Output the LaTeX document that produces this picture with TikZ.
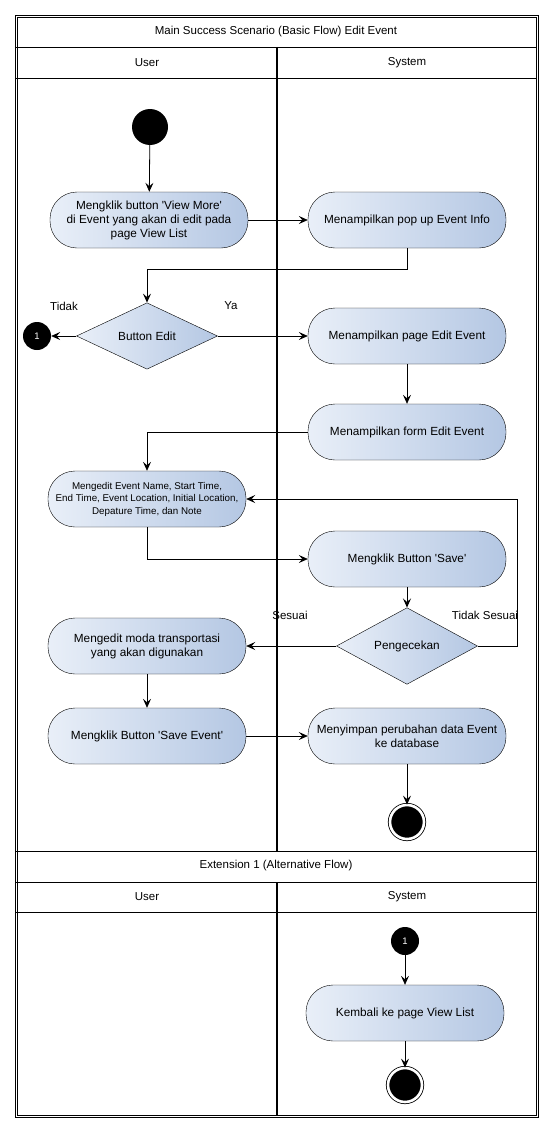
\documentclass[tikz,border=0pt]{standalone}
\usepackage{fontspec}
\setmainfont{Liberation Sans}
\usetikzlibrary{positioning,arrows.meta,shapes.geometric,calc}
\definecolor{actLeft}{HTML}{E9EFF8}
\definecolor{actRight}{HTML}{B4C7E3}
\newcommand{\sq}{\textquotesingle}

\begin{document}
\begin{tikzpicture}[
    x=1pt, y=-1pt,
    act/.style={draw, rounded corners=27pt, minimum width=198pt, minimum height=56pt, left color=actLeft, right color=actRight, font=\fontsize{11.8}{14}\selectfont, align=center, inner sep=2pt},
    decision/.style={diamond, draw, minimum width=141pt, minimum height=57pt, inner sep=0pt, left color=actLeft, right color=actRight, font=\fontsize{11.8}{14}\selectfont},
    startnode/.style={circle, fill=black, minimum size=36pt, inner sep=0pt},
    endnode/.style={circle, fill=black, draw=black, double=white, double distance=2.6pt, line width=0.8pt, minimum size=34pt, inner sep=0pt},
    connnode/.style={circle, fill=black, text=white, minimum size=28pt, inner sep=0pt, font=\fontsize{9.5}{10}\selectfont},
    lbl/.style={font=\fontsize{11.5}{13}\selectfont},
    lane/.style={line width=0.8pt},
    arrow/.style={-{Stealth[length=9pt, width=8pt, inset=3.5pt]}, line width=0.8pt}
  ]
  \useasboundingbox (0,0) rectangle (554,1132);

  % Swimlane frame
  \draw[lane] (15,15) rectangle (538,1117);
  \draw[lane] (17,17) rectangle (536,1115);
  \draw[lane] (16,47) -- (537,47);
  \draw[lane] (16,78) -- (537,78);
  \draw[lane] (16,851) -- (537,851);
  \draw[lane] (16,882) -- (537,882);
  \draw[lane] (16,912) -- (537,912);
  \draw[line width=2pt] (277,47) -- (277,851);
  \draw[line width=2pt] (277,882) -- (277,1115);

  \node[lbl] (title) at (276,32) {Main Success Scenario (Basic Flow) Edit Event};
  \node[lbl] (userA) at (147,63) {User};
  \node[lbl] (systemA) at (407,63) {System};
  \node[lbl] (title2) at (276,866) {Extension 1 (Alternative Flow)};
  \node[lbl] (userB) at (147,897) {User};
  \node[lbl] (systemB) at (407,897) {System};

  % Basic flow
  \node[startnode] (start) at (150,127) {};
  \node[act] (viewmore) at (149,220) {Mengklik button \sq View More\sq\\di Event yang akan di edit pada\\page View List};
  \node[act] (popup) at (407,220) {Menampilkan pop up Event Info};
  \node[decision] (btnedit) at (147,336) {Button Edit};
  \node[connnode] (conn1) at (37,336) {1};
  \node[act] (pageedit) at (407,336) {Menampilkan page Edit Event};
  \node[act] (formedit) at (407,432) {Menampilkan form Edit Event};
  \node[act, font=\fontsize{9.8}{12.5}\selectfont] (editdata) at (147,499) {Mengedit Event Name, Start Time,\\End Time, Event Location, Initial Location,\\Depature Time, dan Note};
  \node[act] (save) at (407,559) {Mengklik Button \sq Save\sq};
  \node[decision] (cek) at (407,646) {Pengecekan};
  \node[act] (moda) at (147,646) {Mengedit moda transportasi\\yang akan digunakan};
  \node[act] (saveevent) at (147,736) {Mengklik Button \sq Save Event\sq};
  \node[act] (simpan) at (407,736) {Menyimpan perubahan data Event\\ke database};
  \node[endnode] (end1) at (407,822) {};

  \node[lbl] (tidak) at (64,306) {Tidak};
  \node[lbl] (ya) at (231,306) {Ya};
  \node[lbl] (sesuai) at (290,615) {Sesuai};
  \node[lbl] (tdksesuai) at (485,615) {Tidak Sesuai};

  \draw[arrow] (start) -- (viewmore);
  \draw[arrow] (viewmore) -- (popup);
  \draw[arrow] (popup.south) -- ++(0,21) -| (btnedit.north);
  \draw[arrow] (btnedit) -- (conn1);
  \draw[arrow] (btnedit) -- (pageedit);
  \draw[arrow] (pageedit) -- (formedit);
  \draw[arrow] (formedit.west) -| (editdata.north);
  \draw[arrow] (editdata.south) |- (save.west);
  \draw[arrow] (save) -- (cek);
  \draw[arrow] (cek.east) -- ++(40,0) |- (editdata.east);
  \draw[arrow] (cek) -- (moda);
  \draw[arrow] (moda) -- (saveevent);
  \draw[arrow] (saveevent) -- (simpan);
  \draw[arrow] (simpan) -- (end1);

  % Alternative flow
  \node[connnode] (conn2) at (405,941) {1};
  \node[act] (kembali) at (405,1013) {Kembali ke page View List};
  \node[endnode] (end2) at (405,1085) {};

  \draw[arrow] (conn2) -- (kembali);
  \draw[arrow] (kembali) -- (end2);
\end{tikzpicture}
\end{document}
